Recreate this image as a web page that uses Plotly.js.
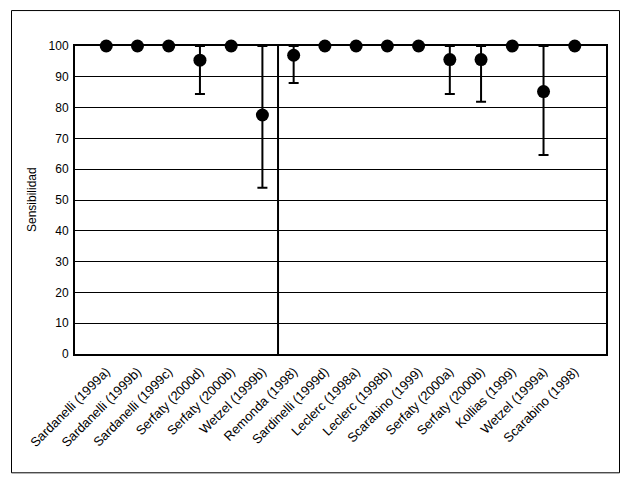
<!DOCTYPE html>
<html>
<head>
<meta charset="utf-8">
<script src="https://cdn.plot.ly/plotly-3.0.1.min.js"></script>
<style>
  html, body { margin: 0; padding: 0; background: #fff; }
  #chart { width: 631px; height: 482px; }
</style>
</head>
<body>
<div id="chart"></div>
<script>
const studies = [
  "Sardanelli (1999a)", "Sardanelli (1999b)", "Sardanelli (1999c)", "Serfaty (2000d)",
  "Serfaty (2000b)", "Wetzel (1999b)", "Remonda (1998)", "Sardinelli (1999d)",
  "Leclerc (1998a)", "Leclerc (1998b)", "Scarabino (1999)", "Serfaty (2000a)",
  "Serfaty (2000b) ", "Kollias (1999)", "Wetzel (1999a)", "Scarabino (1998)"
];
const tickLabels = [
  "Sardanelli (1999a)", "Sardanelli (1999b)", "Sardanelli (1999c)", "Serfaty (2000d)",
  "Serfaty (2000b)", "Wetzel (1999b)", "Remonda (1998)", "Sardinelli (1999d)",
  "Leclerc (1998a)", "Leclerc (1998b)", "Scarabino (1999)", "Serfaty (2000a)",
  "Serfaty (2000b)", "Kollias (1999)", "Wetzel (1999a)", "Scarabino (1998)"
];
const sensitivity = [100, 100, 100, 95.4, 100, 77.6, 97.0, 100, 100, 100, 100, 95.6, 95.6, 100, 85.2, 100];
const lowerCI     = [100, 100, 100, 84.4, 100, 54.0, 88.0, 100, 100, 100, 100, 84.4, 81.9, 100, 64.6, 100];
const upperCI     = [100, 100, 100, 100, 100, 100, 100, 100, 100, 100, 100, 100, 100, 100, 100, 100];
const yTicks = [0, 10, 20, 30, 40, 50, 60, 70, 80, 90, 100];
const yTitle = 'Sensibilidad';
const groupSplit = 5.5;

const idx = studies.map((_, i) => i);
const errPlus = sensitivity.map((v, i) => upperCI[i] - v);
const errMinus = sensitivity.map((v, i) => v - lowerCI[i]);
const hasErr = sensitivity.map((v, i) => lowerCI[i] < v);

const trace = {
  x: idx,
  y: sensitivity,
  type: 'scatter',
  mode: 'markers',
  cliponaxis: false,
  marker: { color: '#000', size: 13, line: { width: 0 } },
  error_y: {
    type: 'data',
    symmetric: false,
    array: errPlus.map((e, i) => hasErr[i] ? e : 0),
    arrayminus: errMinus.map((e, i) => hasErr[i] ? e : 0),
    color: '#000',
    thickness: 2,
    width: 5
  },
  hoverinfo: 'skip'
};

const W = 531, H = 308.5, L = 75, T = 46;
function px2paperX(px) { return (px - L) / W; }
function px2paperY(py) { return (T + H - py) / H; }

const layout = {
  width: 631,
  height: 482,
  margin: { l: L, r: 631 - L - W, t: T, b: 482 - T - H, pad: 0 },
  paper_bgcolor: '#fff',
  plot_bgcolor: '#fff',
  showlegend: false,
  font: { family: 'Liberation Sans, Arial, sans-serif', color: '#000', size: 12 },
  xaxis: {
    range: [-1, studies.length],
    tickmode: 'array',
    tickvals: idx,
    ticktext: tickLabels,
    tickangle: -45,
    tickfont: { size: 13, color: '#000' },
    ticklabelstandoff: 3,
    showgrid: false,
    zeroline: false,
    showline: true,
    linecolor: '#000',
    linewidth: 2,
    mirror: true,
    ticks: '',
    ticklen: 0,
    fixedrange: true
  },
  yaxis: {
    range: [0, 100],
    tickmode: 'array',
    tickvals: yTicks,
    ticktext: yTicks.map(String),
    tickfont: { size: 12, color: '#000' },
    ticklabelstandoff: 2,
    showgrid: true,
    gridcolor: '#000',
    gridwidth: 1,
    zeroline: false,
    showline: true,
    linecolor: '#000',
    linewidth: 2,
    mirror: true,
    ticks: '',
    ticklen: 0,
    fixedrange: true
  },
  annotations: [
    {
      text: yTitle, xref: 'paper', yref: 'paper',
      x: px2paperX(32), y: 0.5, xanchor: 'center', yanchor: 'middle',
      textangle: -90, showarrow: false,
      font: { size: 12, color: '#000' }
    }
  ],
  shapes: [
    {
      type: 'line', xref: 'x', yref: 'paper',
      x0: groupSplit, x1: groupSplit, y0: 0, y1: 1,
      line: { color: '#000', width: 2 }
    },
    {
      type: 'rect', xref: 'paper', yref: 'paper',
      x0: px2paperX(11.5), x1: px2paperX(619.5),
      y0: px2paperY(473.5), y1: px2paperY(10.5),
      line: { color: '#000', width: 1 },
      fillcolor: 'rgba(0,0,0,0)',
      layer: 'below'
    }
  ]
};

Plotly.newPlot('chart', [trace], layout, { displayModeBar: false, staticPlot: true });
</script>
</body>
</html>
